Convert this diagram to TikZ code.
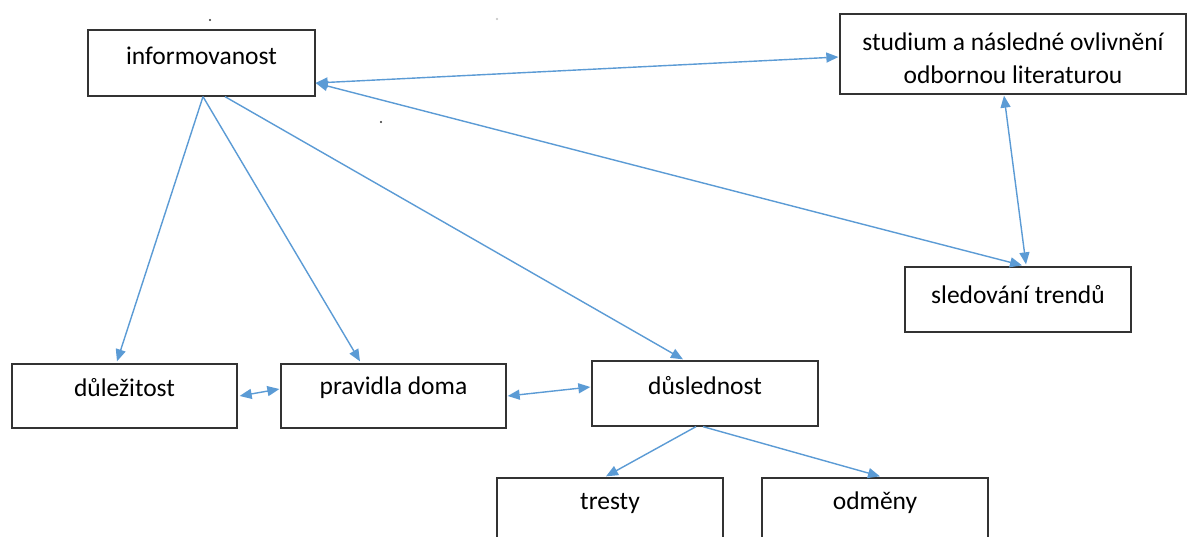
\documentclass[tikz,border=0pt]{standalone}
\usepackage{fontspec}
\setmainfont{Carlito}
\usetikzlibrary{arrows.meta}
\definecolor{arrowblue}{HTML}{5B9BD5}
\definecolor{boxline}{HTML}{333333}
\tikzset{
  box/.style={draw=boxline, line width=1.3pt, rectangle, inner sep=0pt},
  lbl/.style={font=\fontsize{25.5}{33}\selectfont, align=center},
  conn/.style={draw=arrowblue, line width=1.4pt},
  tip/.style={-{Triangle[length=12pt,width=10pt]}},
  tips/.style={{Triangle[length=12pt,width=10pt]}-{Triangle[length=12pt,width=10pt]}},
}
\begin{document}
\begin{tikzpicture}[x=1pt,y=-1pt]
\useasboundingbox (0,0) rectangle (1188,537);
\fill[white] (0,0) rectangle (1188,537);

\node[box, minimum width=227pt, minimum height=66pt, label={[lbl,yshift=7pt]center:informovanost}] (info) at (201.5,63) {};
\node[box, minimum width=346pt, minimum height=80pt, label={[lbl,yshift=-4pt]center:studium a následné ovlivnění\\odbornou literaturou}] (stud) at (1013,54) {};
\node[box, minimum width=226pt, minimum height=65pt, label={[lbl,yshift=4.5pt]center:sledování trendů}] (sled) at (1018,299.5) {};
\node[box, minimum width=225pt, minimum height=64pt, label={[lbl,yshift=8pt]center:důležitost}] (dul) at (124.5,396) {};
\node[box, minimum width=225pt, minimum height=64pt, label={[lbl,yshift=8pt]center:pravidla doma}] (prav) at (393.5,396) {};
\node[box, minimum width=226pt, minimum height=65pt, label={[lbl,yshift=7.5pt]center:důslednost}] (dus) at (705,393.5) {};
\node[box, minimum width=226pt, minimum height=66pt, label={[lbl,yshift=8pt]center:tresty}] (tres) at (610,511) {};
\node[box, minimum width=226pt, minimum height=66pt, label={[lbl,yshift=8pt]center:odměny}] (odm) at (875,511) {};

\draw[conn,tips] ([yshift=-20pt]info.east) -- ([xshift=-1pt,yshift=-3pt]stud.west);
\draw[conn,tips] ([yshift=-20pt]info.east) -- ([xshift=4pt,yshift=1pt]sled.north);
\draw[conn,tips] ([xshift=-9pt,yshift=-1pt]stud.south) -- ([xshift=8pt,yshift=2pt]sled.north);
\draw[conn,tip] ([xshift=1.5pt]info.south) -- ([xshift=-7.5pt,yshift=2pt]dul.north);
\draw[conn,tip] ([xshift=1.5pt]info.south) -- ([xshift=-33.5pt,yshift=2pt]prav.north);
\draw[conn,tip] ([xshift=23.5pt]info.south) -- ([xshift=-22pt,yshift=1pt]dus.north);
\draw[conn,tips] ([xshift=2pt]dul.east) -- ([xshift=-1pt,yshift=7pt]prav.west);
\draw[conn,tips] ([xshift=1pt]prav.east) -- ([xshift=-1pt,yshift=6.5pt]dus.west);
\draw[conn,tip] ([xshift=-9pt]dus.south) -- ([xshift=-4pt,yshift=1pt]tres.north);
\draw[conn,tip] ([xshift=-2pt]dus.south) -- ([xshift=5pt,yshift=1pt]odm.north);

\fill[black!80] (210,20) circle (1.2pt) coordinate (d1);
\fill[black!25] (497,19) circle (1.2pt) coordinate (d2);
\fill[black!80] (381,122) circle (1.2pt) coordinate (d3);
\end{tikzpicture}
\end{document}
